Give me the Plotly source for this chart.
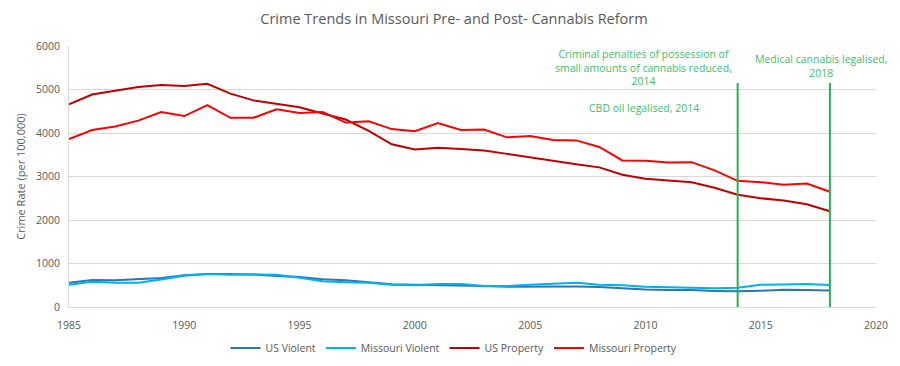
import plotly.graph_objects as go

years = list(range(1985, 2019))

us_violent = [560, 620, 615, 640, 665, 730, 760, 760, 750, 715, 690, 640, 615, 570, 525, 510, 505, 495, 480, 465, 470, 475, 470, 460, 430, 405, 390, 390, 370, 360, 375, 395, 390, 380]
mo_violent = [510, 580, 555, 555, 630, 720, 760, 740, 750, 740, 670, 590, 570, 555, 510, 500, 530, 530, 480, 480, 510, 540, 560, 510, 500, 465, 455, 450, 430, 445, 510, 520, 530, 505]
us_property = [4660, 4885, 4970, 5055, 5105, 5080, 5130, 4905, 4750, 4665, 4590, 4450, 4310, 4050, 3740, 3620, 3660, 3630, 3600, 3520, 3440, 3350, 3280, 3210, 3040, 2950, 2905, 2870, 2740, 2580, 2500, 2450, 2360, 2200]
mo_property = [3860, 4070, 4150, 4285, 4480, 4390, 4640, 4350, 4350, 4545, 4460, 4480, 4240, 4270, 4090, 4040, 4230, 4070, 4080, 3900, 3930, 3840, 3830, 3680, 3370, 3360, 3320, 3330, 3140, 2900, 2870, 2810, 2840, 2650]

series_names = ["US Violent", "Missouri Violent", "US Property", "Missouri Property"]
series_values = [us_violent, mo_violent, us_property, mo_property]
series_colors = ["#2e75b6", "#00b0f0", "#c00000", "#ff0000"]

x_ticks = [1985, 1990, 1995, 2000, 2005, 2010, 2015, 2020]
y_ticks = [0, 1000, 2000, 3000, 4000, 5000, 6000]

event_years = [2014, 2018]
event_top = 5150

FONT = "Open Sans"
GREEN_TEXT = "#3dbf6a"
GREEN_LINE = "#22b34c"

# page body has an 8px margin, so the figure is 8px smaller than the window
W, H = 892, 358

fig = go.Figure()
for name, vals, col in zip(series_names, series_values, series_colors):
    fig.add_trace(go.Scatter(x=years, y=vals, mode="lines", name=name,
                             line=dict(color=col, width=2)))

for yr in event_years:
    fig.add_shape(type="line", xref="x", yref="y", x0=yr, x1=yr, y0=0, y1=event_top,
                  line=dict(color=GREEN_LINE, width=2))

ann_font = dict(family=FONT, size=10.5, color=GREEN_TEXT)
fig.add_annotation(x=2009.9, y=5515, xref="x", yref="y",
                   text="Criminal penalties of possession of<br>small amounts of cannabis reduced,<br>2014",
                   showarrow=False, font=ann_font, align="center")
fig.add_annotation(x=2009.95, y=4575, xref="x", yref="y",
                   text="CBD oil legalised, 2014",
                   showarrow=False, font=ann_font, align="center")
fig.add_annotation(x=2017.6, y=5535, xref="x", yref="y",
                   text="Medical cannabis legalised,<br>2018",
                   showarrow=False, font=ann_font, align="center")

fig.update_layout(
    width=W, height=H,
    paper_bgcolor="white", plot_bgcolor="white",
    margin=dict(l=61, r=24, t=38, b=59, autoexpand=False),
    title=dict(text="Crime Trends in Missouri Pre- and Post- Cannabis Reform",
               x=0.5, xanchor="center", xref="container",
               y=1 - 11 / H, yanchor="middle", yref="container", automargin=False,
               font=dict(family=FONT, size=14.5, color="#595959")),
    font=dict(family=FONT, color="#595959"),
    showlegend=True,
    legend=dict(orientation="h", x=0.5, xanchor="center", xref="container",
                y=-(340 - 299) / 261, yanchor="middle",
                font=dict(family=FONT, size=10.5, color="#595959"),
                itemwidth=30, tracegroupgap=0),
)
fig.update_xaxes(range=[1985, 2020], tickvals=x_ticks, ticktext=[str(t) for t in x_ticks],
                 showgrid=False, showline=True, linecolor="#d9d9d9", linewidth=1,
                 ticks="outside", ticklen=8, tickcolor="rgba(0,0,0,0)",
                 tickfont=dict(family=FONT, size=10.5, color="#595959"),
                 zeroline=False, automargin=False)
fig.update_yaxes(range=[0, 6000], tickvals=y_ticks, ticktext=[str(t) for t in y_ticks],
                 showgrid=True, gridcolor="#d9d9d9", gridwidth=1,
                 showline=True, linecolor="#d9d9d9", linewidth=1, zeroline=False,
                 ticks="outside", ticklen=6, tickcolor="rgba(0,0,0,0)",
                 tickfont=dict(family=FONT, size=10.5, color="#595959"),
                 automargin=False,
                 title=dict(text="Crime Rate (per 100,000)", standoff=8,
                            font=dict(family=FONT, size=11, color="#595959")))

fig.write_html("out.html")
